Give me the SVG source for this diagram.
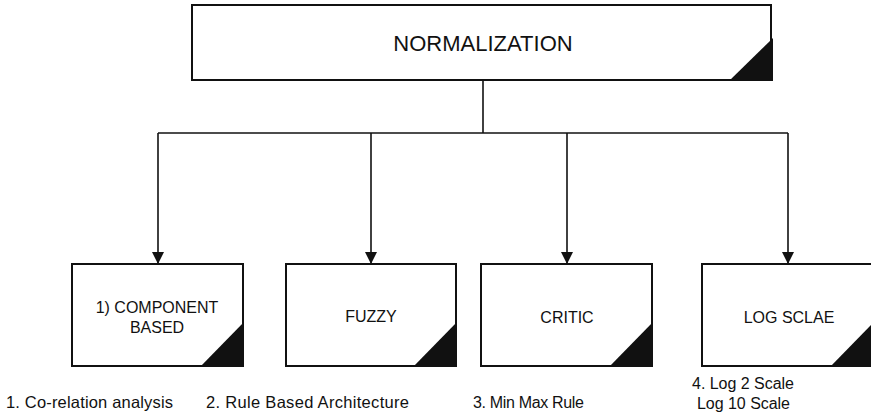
<svg xmlns="http://www.w3.org/2000/svg" width="871" height="418" viewBox="0 0 871 418">
<defs>
<style>
.box{fill:#fff;stroke:#111;stroke-width:2}
.corner{fill:#111;stroke:none}
.conn{fill:none;stroke:#111;stroke-width:1.6}
.t{font-family:"Liberation Sans",Arial,sans-serif;fill:#111;text-anchor:middle}
.lbl{font-family:"Liberation Sans",Arial,sans-serif;fill:#111;font-size:16px}
</style>
</defs>
<rect width="871" height="418" fill="#fff"/>
<g id="connectors">
<path class="conn" d="M483,80 V133"/>
<path class="conn" d="M158,133 H788"/>
<path class="conn" d="M158,133 V263"/>
<path class="conn" d="M371,133 V263"/>
<path class="conn" d="M567,133 V263"/>
<path class="conn" d="M788,133 V263"/>
<path d="M152,252 L164,252 L158,264 Z" fill="#111"/>
<path d="M365,252 L377,252 L371,264 Z" fill="#111"/>
<path d="M561,252 L573,252 L567,264 Z" fill="#111"/>
<path d="M782,252 L794,252 L788,264 Z" fill="#111"/>
</g>
<g id="normalization">
<rect class="box" x="192" y="5" width="579" height="75"/>
<path class="corner" d="M729,81 L773,38 L773,81 Z"/>
<text class="t" x="483" y="51" font-size="22">NORMALIZATION</text>
</g>
<g id="component">
<rect class="box" x="72" y="264" width="171" height="102"/>
<path class="corner" d="M200,367 L244,322 L244,367 Z"/>
<text class="t" x="157" y="313" font-size="16">1) COMPONENT</text>
<text class="t" x="157" y="333" font-size="16">BASED</text>
</g>
<g id="fuzzy">
<rect class="box" x="286" y="264" width="170" height="102"/>
<path class="corner" d="M413,367 L457,322 L457,367 Z"/>
<text class="t" x="371" y="322" font-size="16">FUZZY</text>
</g>
<g id="critic">
<rect class="box" x="481" y="264" width="171" height="102"/>
<path class="corner" d="M609,367 L653,322 L653,367 Z"/>
<text class="t" x="567" y="323" font-size="16">CRITIC</text>
</g>
<g id="logscale">
<rect class="box" x="702" y="264" width="171" height="102"/>
<path class="corner" d="M830,367 L874,322 L874,367 Z"/>
<text class="t" x="789" y="323" font-size="16">LOG SCLAE</text>
</g>
<g id="labels">
<text class="lbl" x="6" y="408" style="font-size:16.5px" textLength="167">1. Co-relation analysis</text>
<text class="lbl" x="206" y="408" style="font-size:16.5px" textLength="203">2. Rule Based Architecture</text>
<text class="lbl" x="473" y="408" textLength="111">3. Min Max Rule</text>
<text class="lbl" x="692" y="389" textLength="102">4. Log 2 Scale</text>
<text class="lbl" x="697" y="409" textLength="93">Log 10 Scale</text>
</g>
</svg>
